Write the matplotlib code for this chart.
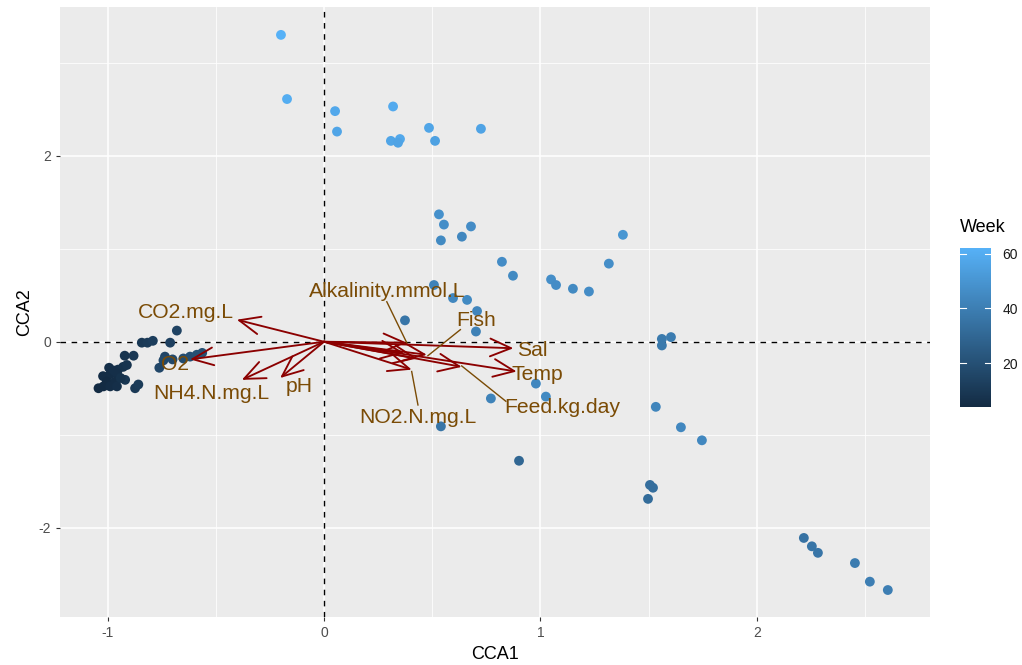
import matplotlib.pyplot as plt
from matplotlib.colors import LinearSegmentedColormap, Normalize
import matplotlib.cm as cm

plt.rcParams['font.family'] = ['Liberation Sans', 'DejaVu Sans']
plt.rcParams['axes.unicode_minus'] = False

# site scores (CCA1, CCA2) and sampling week
cca1 = [-0.680, -0.842, -0.816, -0.791, -0.711, -0.921, -0.880, -0.735, -0.761,
        -0.650, -0.619, -0.588, -0.563, -0.993, -0.952, -0.928, -0.911, -1.021,
        -0.988, -0.957, -1.004, -0.965, -0.919, -1.042, -1.019, -0.988, -0.957,
        -0.873, -0.858, -0.742, -0.700, -0.972, -0.940,
        -0.199, -0.171, 0.051, 0.060, 0.319, 0.309, 0.351, 0.342, 0.485, 0.513, 0.725,
        0.531, 0.554, 0.540, 0.679, 0.637, 0.822, 0.873, 1.049, 1.072, 1.150, 1.224,
        1.316, 1.381, 0.508, 0.596, 0.661, 0.707, 0.702, 0.374,
        0.979, 1.025, 0.771, 0.540, 1.533, 1.561, 1.603, 1.561,
        0.901, 1.649, 1.746, 1.506, 1.520, 1.497,
        2.217, 2.254, 2.282, 2.453, 2.522, 2.605]
cca2 = [0.12, -0.01, -0.01, 0.01, -0.01, -0.15, -0.15, -0.16, -0.28,
        -0.18, -0.16, -0.14, -0.12, -0.28, -0.30, -0.27, -0.25, -0.37,
        -0.35, -0.34, -0.43, -0.43, -0.41, -0.50, -0.48, -0.48, -0.48,
        -0.50, -0.46, -0.20, -0.19, -0.31, -0.39,
        3.30, 2.61, 2.48, 2.26, 2.53, 2.16, 2.18, 2.14, 2.30, 2.16, 2.29,
        1.37, 1.26, 1.09, 1.24, 1.13, 0.86, 0.71, 0.67, 0.61, 0.57, 0.54,
        0.84, 1.15, 0.61, 0.47, 0.45, 0.33, 0.11, 0.23,
        -0.45, -0.59, -0.61, -0.91, -0.70, 0.03, 0.05, -0.04,
        -1.28, -0.92, -1.06, -1.54, -1.57, -1.69,
        -2.11, -2.20, -2.27, -2.38, -2.58, -2.67]
week = [14, 10, 11, 12, 13, 8, 9, 15, 16,
        18, 19, 20, 20, 6, 7, 7, 8, 5,
        5, 6, 4, 5, 9, 4, 4, 5, 6,
        10, 11, 17, 17, 6, 7,
        62, 60, 58, 57, 59, 57, 58, 56, 57, 55, 56,
        48, 47, 45, 46, 44, 46, 45, 47, 46, 45, 46,
        47, 50, 42, 44, 45, 43, 41, 36,
        44, 45, 42, 36, 43, 38, 39, 38,
        30, 44, 44, 33, 33, 32,
        35, 36, 36, 39, 40, 40]

# environmental vectors (arrow tips), label positions
env_names = ['CO2.mg.L', 'O2', 'NH4.N.mg.L', 'pH', 'Alkalinity.mmol.L', 'Fish',
             'Sal', 'Temp', 'Feed.kg.day', 'NO2.N.mg.L', '', '']
env_x = [-0.403, -0.619, -0.380, -0.203, 0.382, 0.475, 0.875, 0.890, 0.636, 0.405, 0.37, 0.43]
env_y = [0.237, -0.190, -0.410, -0.390, -0.010, -0.140, -0.070, -0.320, -0.270, -0.300, -0.12, -0.18]
lab_x = [-0.638, -0.69, -0.522, -0.115, 0.291, 0.702, 0.961, 0.984, 1.099, 0.434]
lab_y = [0.31, -0.25, -0.56, -0.48, 0.54, 0.23, -0.09, -0.35, -0.71, -0.82]

txt_col = '#7A4B05'
arr_col = '#8B0000'

cmap = LinearSegmentedColormap.from_list('gg', ['#132B43', '#56B1F7'])
norm = Normalize(vmin=min(week), vmax=max(week))

fig = plt.figure(figsize=(10.22, 6.65), dpi=100)
ax = fig.add_axes([0.0587, 0.0722, 0.8513, 0.9173])
ax.set_facecolor('#EBEBEB')
for s in ax.spines.values():
    s.set_visible(False)

ax.set_xlim(-1.22, 2.80)
ax.set_ylim(-2.96, 3.60)
ax.set_xticks([-1, 0, 1, 2])
ax.set_yticks([-2, 0, 2])
ax.set_xticks([-0.5, 0.5, 1.5, 2.5], minor=True)
ax.set_yticks([-1, 1, 3], minor=True)
ax.grid(which='major', color='white', lw=1.1)
ax.grid(which='minor', color='white', lw=0.55)
ax.set_axisbelow(True)
ax.tick_params(which='major', length=3, color='#333333', labelsize=10, labelcolor='#4D4D4D')
ax.tick_params(which='minor', length=0)
ax.set_xlabel('CCA1', fontsize=13)
ax.set_ylabel('CCA2', fontsize=13)

ax.axhline(0, color='black', ls=(0, (4, 4)), lw=1.0, zorder=1)
ax.axvline(0, color='black', ls=(0, (4, 4)), lw=1.0, zorder=1)

ax.scatter(cca1, cca2, c=week, cmap=cmap, norm=norm, s=50, lw=0, zorder=2)

for x, y in zip(env_x, env_y):
    ax.annotate('', xy=(x, y), xytext=(0, 0),
                arrowprops=dict(arrowstyle='->,head_length=0.75,head_width=0.32',
                                color=arr_col, lw=1.35, mutation_scale=20,
                                shrinkA=0, shrinkB=0), zorder=3)

for i in range(len(lab_x)):
    ax.text(lab_x[i], lab_y[i], env_names[i], color=txt_col, fontsize=15.2,
            ha='center', va='center', zorder=4)

# repel segments
seg_from = [(0.29, 0.43), (0.63, 0.13), (0.84, -0.64), (0.434, -0.68)]
seg_to = [(0.382, -0.01), (0.48, -0.15), (0.636, -0.26), (0.405, -0.32)]
for (x0, y0), (x1, y1) in zip(seg_from, seg_to):
    ax.plot([x0, x1], [y0, y1], color=txt_col, lw=1.0, zorder=4)

cax = fig.add_axes([0.939, 0.388, 0.031, 0.239])
cb = fig.colorbar(cm.ScalarMappable(norm=norm, cmap=cmap), cax=cax, ticks=[20, 40, 60])
cb.outline.set_visible(False)
cax.tick_params(length=0, labelsize=10, labelcolor='#1A1A1A', pad=8)
for t in [20, 40, 60]:
    cax.plot([0, 0.2], [t, t], color='white', lw=0.8, transform=cax.get_yaxis_transform())
    cax.plot([0.8, 1], [t, t], color='white', lw=0.8, transform=cax.get_yaxis_transform())
fig.text(0.939, 0.645, 'Week', fontsize=13, ha='left', va='bottom')

fig.savefig('out.png', dpi=100)
